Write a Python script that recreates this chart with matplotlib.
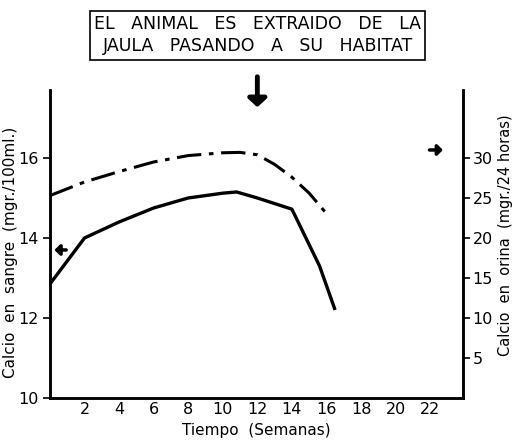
import matplotlib.pyplot as plt
import numpy as np

# semanas
semanas_sangre = [0, 2, 4, 6, 8, 10, 10.8, 12, 14, 15.6, 16.5]
calcio_sangre = [12.85, 14.0, 14.4, 14.75, 15.0, 15.12, 15.15, 15.0, 14.72, 13.3, 12.2]

semanas_orina = [0, 2, 4, 6, 8, 10, 11, 12, 13, 14, 15, 16.1]
calcio_orina = [25.3, 27.0, 28.3, 29.5, 30.3, 30.65, 30.7, 30.4, 29.2, 27.6, 25.6, 22.8]

ticks_x = [2, 4, 6, 8, 10, 12, 14, 16, 18, 20, 22]
ticks_izq = [10, 12, 14, 16]
ticks_der = [5, 10, 15, 20, 25, 30]

fig = plt.figure(figsize=(5.15, 4.4), dpi=100)
ax = fig.add_axes([0.097, 0.0955, 0.802, 0.70])
ax2 = ax.twinx()

ax.plot(semanas_sangre, calcio_sangre, color="black", lw=2.4, solid_capstyle="butt")
ax2.plot(semanas_orina, calcio_orina, color="black", lw=2.2, dashes=[8, 2.5, 1.5, 2.5])

ax.set_xlim(0, 23.9)
ax.set_ylim(10, 17.7)
ax2.set_ylim(0, 38.5)

ax.set_xticks(ticks_x)
ax.set_yticks(ticks_izq)
ax2.set_yticks(ticks_der)

for a in (ax, ax2):
    a.spines["top"].set_visible(False)
    for s in a.spines.values():
        s.set_linewidth(1.8)
ax.tick_params(axis="x", length=0, labelsize=11.5, pad=3)
ax.tick_params(axis="y", length=5, width=1.2, labelsize=11.5)
ax2.tick_params(axis="y", length=5, width=1.2, labelsize=11.5, pad=2)

ax.set_xlabel("Tiempo  (Semanas)", fontsize=11)
ax.set_ylabel("Calcio  en  sangre  (mgr./100ml.)", fontsize=11)
ax2.set_ylabel("Calcio  en  orina  (mgr./24 horas)", fontsize=10.5)
ax.xaxis.set_label_coords(0.5, -0.08)
ax.yaxis.set_label_coords(-0.078, 0.474)
ax2.yaxis.set_label_coords(1.085, 0.53)

# caja de texto
fig.text(0.5, 0.92, "EL   ANIMAL   ES   EXTRAIDO   DE   LA\nJAULA   PASANDO   A   SU   HABITAT",
         ha="center", va="center", fontsize=12.5, linespacing=1.3,
         bbox=dict(boxstyle="square,pad=0.25", fc="white", ec="black", lw=1.2))

# flechas
ax.annotate("", xy=(12, 17.2), xytext=(12, 18.1), annotation_clip=False,
            arrowprops=dict(arrowstyle="-|>,head_width=0.55,head_length=0.5",
                            color="black", lw=3.5))
ax.annotate("", xy=(0.1, 13.7), xytext=(1.1, 13.7),
            arrowprops=dict(arrowstyle="-|>,head_width=0.3,head_length=0.3",
                            color="black", lw=2.5))
ax.annotate("", xy=(22.9, 16.2), xytext=(21.8, 16.2),
            arrowprops=dict(arrowstyle="-|>,head_width=0.3,head_length=0.3",
                            color="black", lw=2.5))

fig.savefig("out.png", dpi=100)
